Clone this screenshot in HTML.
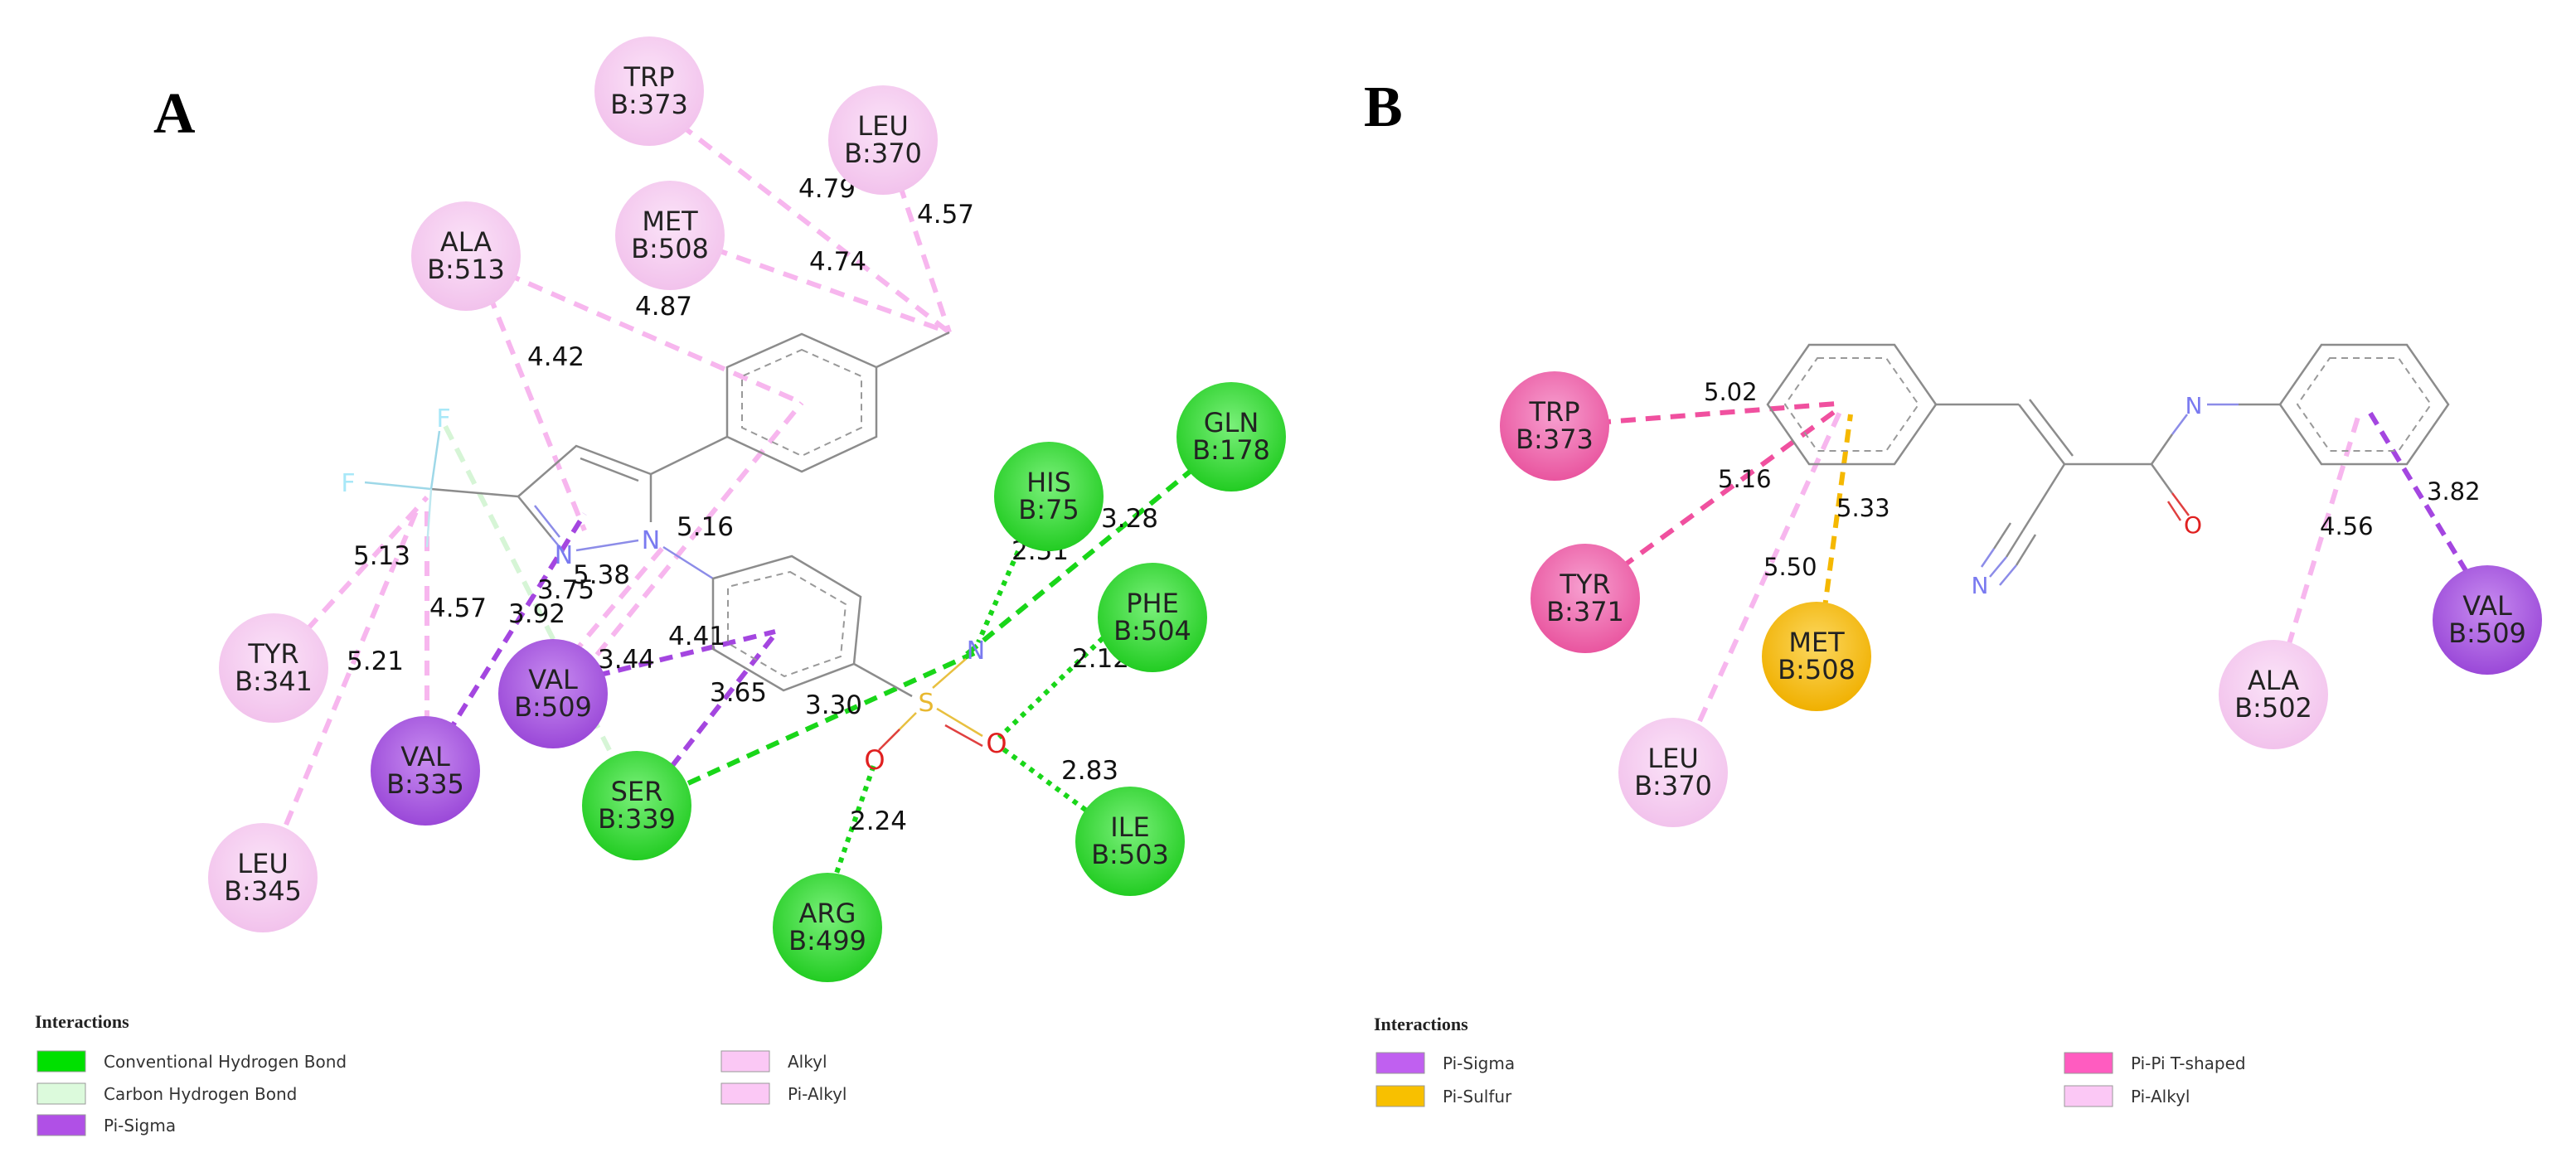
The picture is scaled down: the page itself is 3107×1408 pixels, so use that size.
<!DOCTYPE html>
<html><head><meta charset="utf-8"><style>
html,body{margin:0;padding:0;background:#fff}
svg{display:block}
svg circle{r:66px}
.n{font-family:"DejaVu Sans","Liberation Sans",sans-serif;font-size:32px;fill:#222;text-anchor:middle}
.d{font-family:"DejaVu Sans","Liberation Sans",sans-serif;font-size:31px;fill:#111}
.lg{font-family:"DejaVu Sans","Liberation Sans",sans-serif;font-size:20px;fill:#333}
.lt{font-family:"Liberation Serif",serif;font-size:22px;font-weight:bold;fill:#222}
.big{font-family:"Liberation Serif",serif;font-size:70px;font-weight:bold;fill:#000}
.pk{stroke:#f7b6ee;stroke-width:6;stroke-dasharray:18 12;fill:none}
.pu{stroke:#a446e0;stroke-width:6;stroke-dasharray:16 10;fill:none}
.gr{stroke:#19d619;stroke-width:6;stroke-dasharray:16 10;fill:none}
.gd{stroke:#19d619;stroke-width:6;stroke-dasharray:6 7;fill:none}
.lg2{stroke:#d6f5d6;stroke-width:6;stroke-dasharray:18 12;fill:none}
.tp{stroke:#f0509f;stroke-width:6;stroke-dasharray:18 12;fill:none}
.ye{stroke:#f5b800;stroke-width:6;stroke-dasharray:16 10;fill:none}
.b{stroke:#8c8c8c;stroke-width:2.5;fill:none}
.bi{stroke:#999;stroke-width:2;stroke-dasharray:8 6;fill:none}
</style></head><body>
<svg width="3107" height="1408" viewBox="0 0 3107 1408" xmlns="http://www.w3.org/2000/svg">
<defs>
<radialGradient id="gP" cx="50%" cy="40%" r="60%"><stop offset="0" stop-color="#fbe3f8"/><stop offset="1" stop-color="#f2c2ec"/></radialGradient>
<radialGradient id="gU" cx="50%" cy="40%" r="60%"><stop offset="0" stop-color="#c88cf0"/><stop offset="1" stop-color="#9a48d8"/></radialGradient>
<radialGradient id="gG" cx="50%" cy="40%" r="60%"><stop offset="0" stop-color="#7af07a"/><stop offset="1" stop-color="#22cc22"/></radialGradient>
<radialGradient id="gT" cx="50%" cy="40%" r="60%"><stop offset="0" stop-color="#f7a0d0"/><stop offset="1" stop-color="#e9559f"/></radialGradient>
<radialGradient id="gY" cx="50%" cy="40%" r="60%"><stop offset="0" stop-color="#fcd860"/><stop offset="1" stop-color="#f0b000"/></radialGradient>
</defs>
<rect width="3107" height="1408" fill="#fff"/>
<text class="big" x="185" y="160">A</text>
<text class="big" x="1645" y="152">B</text>

<!-- Panel A lines -->
<line class="pk" x1="820" y1="150" x2="1145" y2="401"/>
<line class="pk" x1="1085" y1="222" x2="1145" y2="401"/>
<line class="pk" x1="860" y1="300" x2="1145" y2="401"/>
<line class="pk" x1="610" y1="330" x2="967" y2="486"/>
<line class="pk" x1="590" y1="355" x2="705" y2="640"/>
<line class="pk" x1="720" y1="790" x2="967" y2="486"/>
<line class="pk" x1="370" y1="760" x2="515" y2="600"/>
<line class="pk" x1="345" y1="995" x2="505" y2="610"/>
<line class="pk" x1="515" y1="875" x2="515" y2="610"/>
<line class="pk" x1="690" y1="790" x2="800" y2="660"/>
<line class="pu" x1="540" y1="885" x2="705" y2="620"/>
<line class="lg2" x1="735" y1="905" x2="535" y2="510"/>
<line class="pu" x1="720" y1="815" x2="935" y2="762"/>
<line class="pu" x1="810" y1="925" x2="935" y2="765"/>
<line class="gr" x1="830" y1="945" x2="1175" y2="788"/>
<line class="gr" x1="1440" y1="565" x2="1165" y2="790"/>
<line class="gd" x1="1228" y1="665" x2="1180" y2="775"/>
<line class="gd" x1="1330" y1="770" x2="1205" y2="890"/>
<line class="gd" x1="1320" y1="985" x2="1205" y2="900"/>
<line class="gd" x1="1005" y1="1065" x2="1055" y2="920"/>

<!-- Molecule A -->
<polygon class="b" points="967,403 1057,443 1057,527 967,569 877,527 877,443"/>
<polygon class="bi" points="967,422 1039,454 1039,516 967,550 895,516 895,454"/>
<line class="b" x1="1057" y1="443" x2="1145" y2="401"/>
<line class="b" x1="877" y1="527" x2="785" y2="572"/>
<polyline class="b" points="785,572 695,538 625,599"/>
<line class="b" x1="700" y1="553" x2="770" y2="580"/>
<line style="stroke:#8c8c8c;stroke-width:2.5" x1="625" y1="599" x2="665" y2="648"/>
<line style="stroke:#8c8ce8;stroke-width:2.5" x1="665" y1="648" x2="680" y2="666"/>
<line style="stroke:#8c8ce8;stroke-width:2.5" x1="645" y1="610" x2="675" y2="648"/>
<line style="stroke:#8c8ce8;stroke-width:2.5" x1="695" y1="664" x2="770" y2="652"/>
<line style="stroke:#8c8c8c;stroke-width:2.5" x1="785" y1="572" x2="785" y2="630"/>
<line class="b" x1="625" y1="599" x2="520" y2="590"/>
<line style="stroke:#9ed8e8;stroke-width:2.5" x1="520" y1="590" x2="440" y2="582"/>
<line style="stroke:#9ed8e8;stroke-width:2.5" x1="520" y1="590" x2="530" y2="520"/>
<line style="stroke:#bfe8f0;stroke-width:2.5" x1="520" y1="590" x2="515" y2="660"/>
<text x="420" y="593" style="font:30px 'DejaVu Sans',sans-serif;fill:#a8e8f8" text-anchor="middle">F</text>
<text x="535" y="515" style="font:30px 'DejaVu Sans',sans-serif;fill:#a8e8f8" text-anchor="middle">F</text>
<text x="680" y="680" style="font:30px 'DejaVu Sans',sans-serif;fill:#7a7af0" text-anchor="middle">N</text>
<text x="785" y="662" style="font:30px 'DejaVu Sans',sans-serif;fill:#7a7af0" text-anchor="middle">N</text>
<line style="stroke:#8c8ce8;stroke-width:2.5" x1="800" y1="660" x2="860" y2="698"/>
<polygon class="b" points="955,671 1038,720 1030,801 945,833 860,783 860,698"/>
<polygon class="bi" points="953,690 1020,729 1014,792 946,816 878,776 878,708"/>
<line class="b" x1="1030" y1="801" x2="1100" y2="840"/>
<line style="stroke:#e8c040;stroke-width:2.5" x1="1125" y1="830" x2="1165" y2="795"/>
<line style="stroke:#e8c040;stroke-width:2.5" x1="1105" y1="860" x2="1065" y2="900"/>
<line style="stroke:#e8c040;stroke-width:2.5" x1="1130" y1="855" x2="1185" y2="888"/>
<line style="stroke:#e04040;stroke-width:2.5" x1="1140" y1="875" x2="1185" y2="900"/>
<line style="stroke:#e04040;stroke-width:2.5" x1="1085" y1="880" x2="1060" y2="905"/>
<text x="1117" y="858" style="font:30px 'DejaVu Sans',sans-serif;fill:#e8b830" text-anchor="middle">S</text>
<text x="1177" y="795" style="font:30px 'DejaVu Sans',sans-serif;fill:#7a7af0" text-anchor="middle">N</text>
<text x="1055" y="928" style="font:32px 'DejaVu Sans',sans-serif;fill:#e02020" text-anchor="middle">O</text>
<text x="1202" y="908" style="font:32px 'DejaVu Sans',sans-serif;fill:#e02020" text-anchor="middle">O</text>

<!-- Panel A distance labels -->
<g class="d">
<text x="963" y="238">4.79</text><text x="1106" y="269">4.57</text><text x="976" y="326">4.74</text>
<text x="766" y="380">4.87</text><text x="636" y="441">4.42</text><text x="816" y="646">5.16</text>
<text x="426" y="681">5.13</text><text x="691" y="704">5.38</text><text x="648" y="722">3.75</text>
<text x="518" y="744">4.57</text><text x="613" y="751">3.92</text><text x="418" y="808">5.21</text>
<text x="806" y="778">4.41</text><text x="721" y="806">3.44</text><text x="856" y="846">3.65</text>
<text x="971" y="861">3.30</text><text x="1328" y="636">3.28</text><text x="1220" y="675">2.51</text>
<text x="1293" y="805">2.12</text><text x="1280" y="940">2.83</text><text x="1025" y="1001">2.24</text>
</g>

<!-- Panel A nodes -->
<g>
<circle cx="783" cy="110" r="66" fill="url(#gP)"/><text class="n" x="783" y="104">TRP</text><text class="n" x="783" y="137">B:373</text>
<circle cx="1065" cy="169" r="66" fill="url(#gP)"/><text class="n" x="1065" y="163">LEU</text><text class="n" x="1065" y="196">B:370</text>
<circle cx="808" cy="284" r="66" fill="url(#gP)"/><text class="n" x="808" y="278">MET</text><text class="n" x="808" y="311">B:508</text>
<circle cx="562" cy="309" r="66" fill="url(#gP)"/><text class="n" x="562" y="303">ALA</text><text class="n" x="562" y="336">B:513</text>
<circle cx="330" cy="806" r="66" fill="url(#gP)"/><text class="n" x="330" y="800">TYR</text><text class="n" x="330" y="833">B:341</text>
<circle cx="317" cy="1059" r="66" fill="url(#gP)"/><text class="n" x="317" y="1053">LEU</text><text class="n" x="317" y="1086">B:345</text>
<circle cx="513" cy="930" r="66" fill="url(#gU)"/><text class="n" x="513" y="924">VAL</text><text class="n" x="513" y="957">B:335</text>
<circle cx="667" cy="837" r="66" fill="url(#gU)"/><text class="n" x="667" y="831">VAL</text><text class="n" x="667" y="864">B:509</text>
<circle cx="768" cy="972" r="66" fill="url(#gG)"/><text class="n" x="768" y="966">SER</text><text class="n" x="768" y="999">B:339</text>
<circle cx="998" cy="1119" r="66" fill="url(#gG)"/><text class="n" x="998" y="1113">ARG</text><text class="n" x="998" y="1146">B:499</text>
<circle cx="1363" cy="1015" r="66" fill="url(#gG)"/><text class="n" x="1363" y="1009">ILE</text><text class="n" x="1363" y="1042">B:503</text>
<circle cx="1390" cy="745" r="66" fill="url(#gG)"/><text class="n" x="1390" y="739">PHE</text><text class="n" x="1390" y="772">B:504</text>
<circle cx="1265" cy="599" r="66" fill="url(#gG)"/><text class="n" x="1265" y="593">HIS</text><text class="n" x="1265" y="626">B:75</text>
<circle cx="1485" cy="527" r="66" fill="url(#gG)"/><text class="n" x="1485" y="521">GLN</text><text class="n" x="1485" y="554">B:178</text>
</g>

<!-- Legend A -->
<text class="lt" x="42" y="1240">Interactions</text>
<rect x="45" y="1268" width="58" height="25" fill="#00e000" stroke="#999"/><text class="lg" x="125" y="1288">Conventional Hydrogen Bond</text>
<rect x="45" y="1307" width="58" height="25" fill="#dcfadc" stroke="#999"/><text class="lg" x="125" y="1327">Carbon Hydrogen Bond</text>
<rect x="45" y="1345" width="58" height="25" fill="#b050e6" stroke="#999"/><text class="lg" x="125" y="1365">Pi-Sigma</text>
<rect x="870" y="1268" width="58" height="25" fill="#fbc8f5" stroke="#999"/><text class="lg" x="950" y="1288">Alkyl</text>
<rect x="870" y="1307" width="58" height="25" fill="#fbc8f5" stroke="#999"/><text class="lg" x="950" y="1327">Pi-Alkyl</text>

<!-- Panel B lines -->
<line class="tp" x1="1925" y1="510" x2="2215" y2="487"/>
<line class="tp" x1="1955" y1="685" x2="2215" y2="495"/>
<line class="pk" x1="2050" y1="870" x2="2220" y2="495"/>
<line class="ye" x1="2200" y1="740" x2="2232" y2="500"/>
<line class="pk" x1="2760" y1="780" x2="2845" y2="500"/>
<line class="pu" x1="2975" y1="690" x2="2858" y2="497"/>

<!-- Molecule B -->
<polygon class="b" points="2182,416 2285,416 2335,488 2285,560 2182,560 2132,488"/>
<polygon class="bi" points="2192,432 2275,432 2314,488 2275,544 2192,544 2153,488"/>
<line class="b" x1="2335" y1="488" x2="2435" y2="488"/>
<line class="b" x1="2435" y1="488" x2="2490" y2="560"/>
<line class="b" x1="2448" y1="482" x2="2500" y2="550"/>
<line class="b" x1="2490" y1="560" x2="2595" y2="560"/>
<line class="b" x1="2595" y1="560" x2="2620" y2="595"/>
<line style="stroke:#e04040;stroke-width:2.5" x1="2620" y1="595" x2="2640" y2="622"/>
<line style="stroke:#e04040;stroke-width:2.5" x1="2615" y1="605" x2="2630" y2="628"/>
<text x="2645" y="643" style="font:28px 'DejaVu Sans',sans-serif;fill:#e02020" text-anchor="middle">O</text>
<line class="b" x1="2595" y1="560" x2="2620" y2="524"/>
<line style="stroke:#8c8ce8;stroke-width:2.5" x1="2620" y1="524" x2="2638" y2="500"/>
<text x="2646" y="499" style="font:28px 'DejaVu Sans',sans-serif;fill:#7a7af0" text-anchor="middle">N</text>
<line style="stroke:#8c8ce8;stroke-width:2.5" x1="2662" y1="488" x2="2700" y2="488"/>
<line class="b" x1="2700" y1="488" x2="2750" y2="488"/>
<polygon class="b" points="2800,416 2903,416 2953,488 2903,560 2800,560 2750,488"/>
<polygon class="bi" points="2810,432 2893,432 2932,488 2893,544 2810,544 2771,488"/>
<line class="b" x1="2490" y1="560" x2="2440" y2="640"/>
<line class="b" x1="2440" y1="640" x2="2420" y2="672"/>
<line class="b" x1="2455" y1="645" x2="2432" y2="682"/>
<line class="b" x1="2425" y1="631" x2="2405" y2="662"/>
<line style="stroke:#8c8ce8;stroke-width:2.5" x1="2420" y1="672" x2="2400" y2="696"/>
<line style="stroke:#8c8ce8;stroke-width:2.5" x1="2432" y1="682" x2="2412" y2="706"/>
<line style="stroke:#8c8ce8;stroke-width:2.5" x1="2405" y1="662" x2="2390" y2="684"/>
<text x="2388" y="716" style="font:28px 'DejaVu Sans',sans-serif;fill:#7a7af0" text-anchor="middle">N</text>

<g class="d" style="font-size:29px">
<text x="2055" y="483">5.02</text><text x="2072" y="588">5.16</text><text x="2127" y="694">5.50</text>
<text x="2215" y="623">5.33</text><text x="2798" y="645">4.56</text><text x="2927" y="603">3.82</text>
</g>

<g>
<circle cx="1875" cy="514" r="66" fill="url(#gT)"/><text class="n" x="1875" y="508">TRP</text><text class="n" x="1875" y="541">B:373</text>
<circle cx="1912" cy="722" r="66" fill="url(#gT)"/><text class="n" x="1912" y="716">TYR</text><text class="n" x="1912" y="749">B:371</text>
<circle cx="2191" cy="792" r="66" fill="url(#gY)"/><text class="n" x="2191" y="786">MET</text><text class="n" x="2191" y="819">B:508</text>
<circle cx="2018" cy="932" r="66" fill="url(#gP)"/><text class="n" x="2018" y="926">LEU</text><text class="n" x="2018" y="959">B:370</text>
<circle cx="2742" cy="838" r="66" fill="url(#gP)"/><text class="n" x="2742" y="832">ALA</text><text class="n" x="2742" y="865">B:502</text>
<circle cx="3000" cy="748" r="66" fill="url(#gU)"/><text class="n" x="3000" y="742">VAL</text><text class="n" x="3000" y="775">B:509</text>
</g>

<!-- Legend B -->
<text class="lt" x="1657" y="1243">Interactions</text>
<rect x="1660" y="1270" width="58" height="25" fill="#c060f0" stroke="#999"/><text class="lg" x="1740" y="1290">Pi-Sigma</text>
<rect x="1660" y="1310" width="58" height="25" fill="#f8c000" stroke="#999"/><text class="lg" x="1740" y="1330">Pi-Sulfur</text>
<rect x="2490" y="1270" width="58" height="25" fill="#ff5cc0" stroke="#999"/><text class="lg" x="2570" y="1290">Pi-Pi T-shaped</text>
<rect x="2490" y="1310" width="58" height="25" fill="#fbc8f5" stroke="#999"/><text class="lg" x="2570" y="1330">Pi-Alkyl</text>
</svg>
</body></html>
